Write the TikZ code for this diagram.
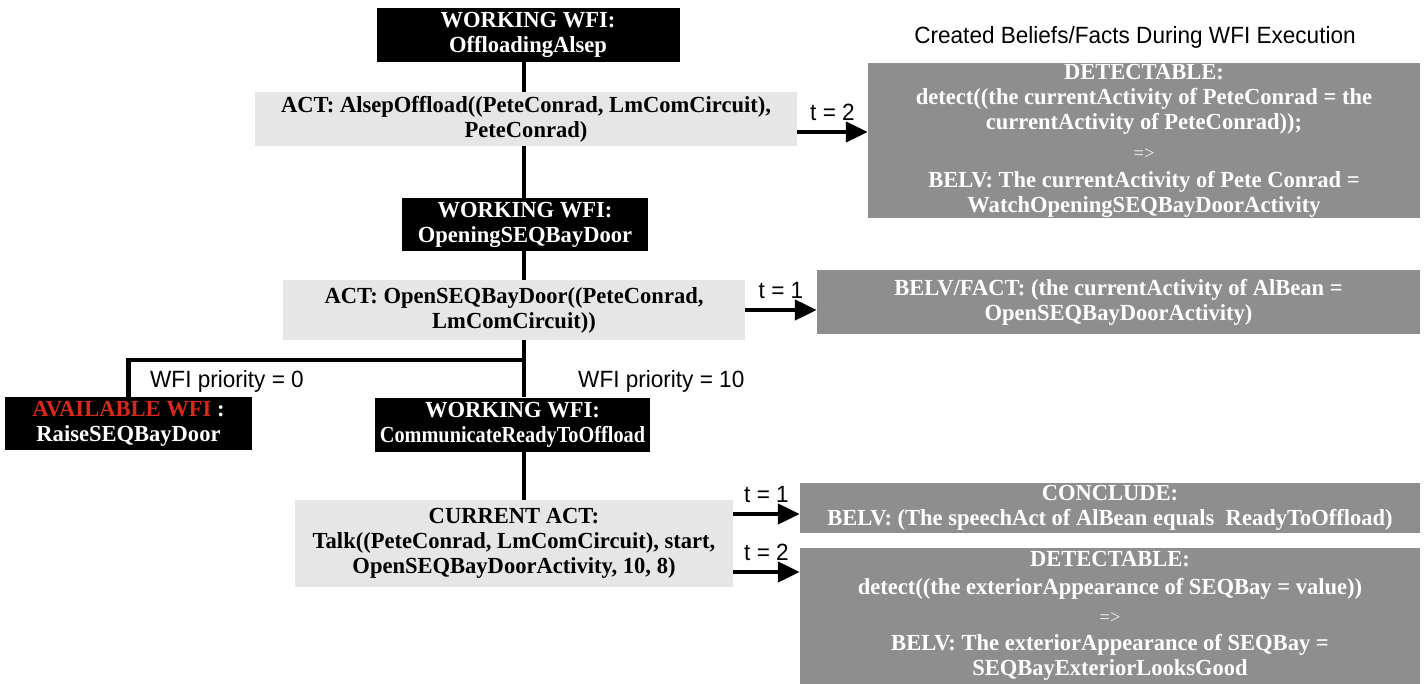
\documentclass[tikz,border=0pt]{standalone}
\usepackage{fontspec}
\setmainfont[FakeStretch=0.98]{Liberation Serif}
\newfontfamily\labelfont[FakeStretch=0.96]{Liberation Sans}
\usetikzlibrary{arrows.meta}
\definecolor{actgray}{HTML}{E6E6E6}
\definecolor{beliefgray}{HTML}{8E8E8E}
\definecolor{availred}{HTML}{D8281C}
\newcommand\impltext[1]{{\fontsize{19}{20}\selectfont\mdseries\color{white!88!beliefgray}#1}}
\newcommand\narrowtext[1]{\scalebox{0.9}[1]{#1}}
\tikzset{
  wfibox/.style={fill=black, text=white, inner sep=0pt, align=center,
    font=\fontsize{23}{25}\selectfont\bfseries},
  actbox/.style={fill=actgray, text=black, inner sep=0pt, align=center,
    font=\fontsize{23}{25}\selectfont\bfseries},
  beliefbox/.style={fill=beliefgray, text=white, inner sep=0pt, align=center,
    font=\fontsize{23}{25}\selectfont\bfseries},
  trunk/.style={line width=4.5pt},
  arr/.style={line width=4.5pt, -{Triangle[length=22pt,width=20pt]}},
  tlabel/.style={font=\labelfont\fontsize{23.5}{25}\selectfont, inner sep=0pt}
}
\begin{document}
\begin{tikzpicture}[x=1pt,y=-1pt]
\useasboundingbox (0,0) rectangle (1424,684);
\fill[white] (0,0) rectangle (1424,684);

\coordinate (tr) at (524,0);

% left column: working WFIs and their activities
\node[wfibox, minimum width=303pt, minimum height=54pt] (wfi1) at (528,35)
  {WORKING WFI:\\OffloadingAlsep};
\node[actbox, minimum width=542pt, minimum height=54pt] (act1) at (526,119)
  {ACT: AlsepOffload((PeteConrad, LmComCircuit),\\PeteConrad)};
\node[wfibox, minimum width=246pt, minimum height=53pt] (wfi2) at (525,224.5)
  {WORKING WFI:\\OpeningSEQBayDoor};
\node[actbox, minimum width=462pt, minimum height=60pt] (act2) at (514,310)
  {ACT: OpenSEQBayDoor((PeteConrad,\\LmComCircuit))};
\node[wfibox, minimum width=247pt, minimum height=53pt] (avail) at (128.5,423.5)
  {\textcolor{availred}{AVAILABLE WFI} :\\RaiseSEQBayDoor};
\node[wfibox, minimum width=275pt, minimum height=54pt] (wfi3) at (512.5,424.5)
  {WORKING WFI:\\\narrowtext{CommunicateReadyToOffload}};
\node[actbox, minimum width=438pt, minimum height=87pt] (act3) at (514,543.5)
  {CURRENT ACT:\\Talk((PeteConrad, LmComCircuit), start,\\OpenSEQBayDoorActivity, 10, 8)};

% vertical flow
\draw[trunk] (wfi1.south -| tr) -- (act1.north -| tr);
\draw[trunk] (act1.south -| tr) -- (wfi2.north -| tr);
\draw[trunk] (wfi2.south -| tr) -- (act2.north -| tr);
\draw[trunk] (act2.south -| tr) -- (wfi3.north -| tr);
\coordinate (fork) at (524,360);
\draw[trunk] (fork) -| (avail.north);
\draw[trunk] (wfi3.south -| tr) -- (act3.north -| tr);

\node[tlabel, anchor=west] (p0) at (150,381) {WFI priority = 0};
\node[tlabel, anchor=west] (p10) at (578,381) {WFI priority = 10};

% right column: created beliefs and facts
\node[tlabel] (title) at (1135,37) {Created Beliefs/Facts During WFI Execution};
\node[beliefbox, minimum width=552pt, minimum height=155pt] (b1) at (1144,140.5)
  {DETECTABLE:\\detect((the currentActivity of PeteConrad = the\\currentActivity of PeteConrad));\\[5pt]
   \impltext{=>}\\[3pt]BELV: The currentActivity of Pete Conrad =\\WatchOpeningSEQBayDoorActivity};
\node[beliefbox, minimum width=603pt, minimum height=64pt] (b2) at (1118.5,302)
  {BELV/FACT: (the currentActivity of AlBean =\\OpenSEQBayDoorActivity)};
\node[beliefbox, minimum width=620pt, minimum height=50pt, anchor=north] (b3) at (1110,483)
  {CONCLUDE:\\BELV: (The speechAct of AlBean equals\ \ ReadyToOffload)};
\node[beliefbox, minimum width=620pt, minimum height=136pt] (b4) at (1110,616)
  {DETECTABLE:\\[3pt]detect((the exteriorAppearance of SEQBay = value))\\[4pt]
   \impltext{=>}\\[2pt]BELV: The exteriorAppearance of SEQBay =\\SEQBayExteriorLooksGood};

% timed arrows
\draw[arr] ([yshift=-13pt]act1.east) -- ([yshift=-13pt]act1.east -| b1.west)
  node[tlabel, midway, above=9pt] (t1) {t = 2};
\draw[arr] (act2.east) -- (act2.east -| b2.west)
  node[tlabel, midway, above=9pt] (t2) {t = 1};
\draw[arr] ([yshift=29.5pt]act3.east) -- ([yshift=29.5pt]act3.east -| b3.west)
  node[tlabel, midway, above=9pt] (t3) {t = 1};
\draw[arr] ([yshift=-28.5pt]act3.east) -- ([yshift=-28.5pt]act3.east -| b4.west)
  node[tlabel, midway, above=9pt] (t4) {t = 2};
\end{tikzpicture}
\end{document}
